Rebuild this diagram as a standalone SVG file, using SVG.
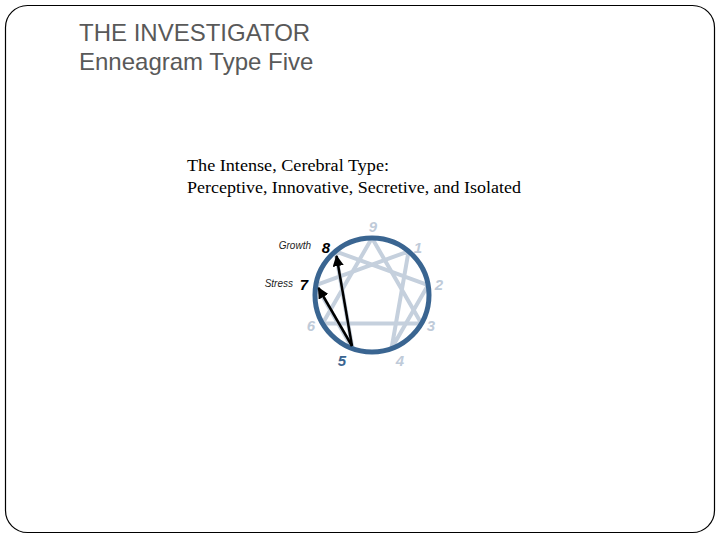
<svg xmlns="http://www.w3.org/2000/svg" width="720" height="540" viewBox="0 0 720 540">
<style>
.title{font-family:"Liberation Sans",Arial,sans-serif;font-size:24px;fill:#595959}
.sub{font-family:"Liberation Serif","Times New Roman",serif;font-size:17.5px;fill:#000}
.num{font-family:"Liberation Sans",Arial,sans-serif;font-size:15px;font-weight:bold;font-style:italic;fill:#bfcbd9;text-anchor:middle}
.lab{font-family:"Liberation Sans",Arial,sans-serif;font-size:10px;font-style:italic;fill:#222;text-anchor:end}
.star{fill:none;stroke:#c5d0dd;stroke-width:4;stroke-linejoin:round}
.arr{stroke:#000;stroke-width:2.5;fill:none}
</style>
<defs>
<marker id="ah" viewBox="0 0 10 10" refX="9" refY="5" markerWidth="4.5" markerHeight="4.5" orient="auto" markerUnits="strokeWidth">
<path d="M0,0 L10,5 L0,10 z" fill="#000"/>
</marker>
</defs>
<rect x="5.5" y="5.5" width="709" height="527" rx="22" ry="22" fill="#fff" stroke="#000" stroke-width="1.2"/>
<g id="title">
<text class="title" x="79" y="41">THE INVESTIGATOR</text>
<text class="title" x="79" y="70">Enneagram Type Five</text>
</g>
<g id="subtitle">
<text class="sub" x="187" y="171" textLength="202" lengthAdjust="spacingAndGlyphs">The Intense, Cerebral Type:</text>
<text class="sub" x="187" y="193" textLength="334" lengthAdjust="spacingAndGlyphs">Perceptive, Innovative, Secretive, and Isolated</text>
</g>
<g id="enneagram">
<polygon class="star" points="372,238 421.4,323.5 322.6,323.5"/>
<polygon class="star" points="408.6,251.3 391.5,348.6 428.1,285.1 335.4,251.3 352.5,348.6 315.9,285.1"/>
<circle cx="372" cy="295" r="57" fill="none" stroke="#3a6591" stroke-width="5"/>
<text class="num" x="373" y="232">9</text>
<text class="num" x="418" y="253">1</text>
<text class="num" x="439" y="290">2</text>
<text class="num" x="431" y="331">3</text>
<text class="num" x="400" y="366">4</text>
<text class="num" x="342" y="366" style="fill:#3a6591">5</text>
<text class="num" x="311" y="331">6</text>
<text class="num" x="304" y="290" style="fill:#000">7</text>
<text class="num" x="326" y="253" style="fill:#000">8</text>
<text class="lab" x="311" y="249">Growth</text>
<text class="lab" x="293" y="287">Stress</text>
</g>
<g id="connectors">
<line class="arr" x1="352" y1="346" x2="336.5" y2="256" marker-end="url(#ah)"/>
<line class="arr" x1="352" y1="346" x2="318.5" y2="288" marker-end="url(#ah)"/>
</g>
</svg>
